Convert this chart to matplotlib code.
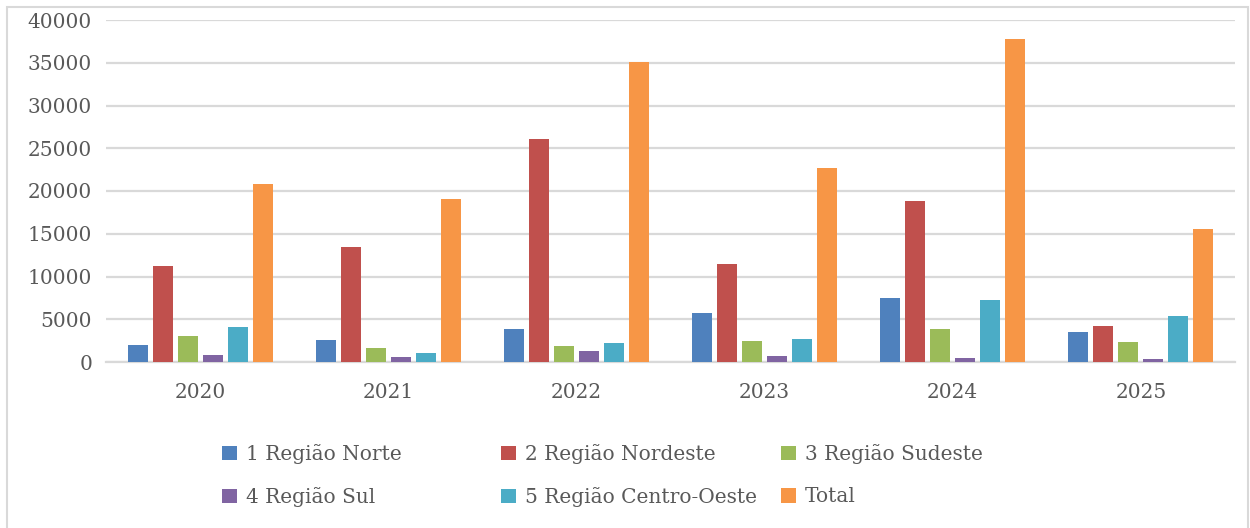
import matplotlib
matplotlib.use("Agg")
import matplotlib.pyplot as plt
from matplotlib.patches import Rectangle
import numpy as np

years = ["2020", "2021", "2022", "2023", "2024", "2025"]
series_names = ["1 Região Norte", "2 Região Nordeste", "3 Região Sudeste",
                "4 Região Sul", "5 Região Centro-Oeste", "Total"]
norte = [2000, 2550, 3850, 5750, 7500, 3500]
nordeste = [11200, 13450, 26100, 11450, 18850, 4200]
sudeste = [3000, 1650, 1850, 2450, 3850, 2350]
sul = [800, 600, 1300, 700, 450, 350]
centro_oeste = [4100, 1050, 2200, 2700, 7250, 5400]
total = [20850, 19050, 35100, 22700, 37800, 15550]
yticks = [0, 5000, 10000, 15000, 20000, 25000, 30000, 35000, 40000]

series = [norte, nordeste, sudeste, sul, centro_oeste, total]
colors = ["#4F81BD", "#C0504D", "#9BBB59", "#8064A2", "#4BACC6", "#F79646"]

plt.rcParams['font.family'] = ['DejaVu Serif']
text_color = "#595959"
grid_color = "#d9d9d9"

W, H = 1250, 528
fig = plt.figure(figsize=(W / 100, H / 100), dpi=100)
ax = fig.add_axes([106 / W, 1 - 362 / H, (1235 - 106) / W, 342 / H])

x = np.arange(len(years))
pitch = 25 / 188
width = 20 / 188
handles = []
for i, (vals, c, name) in enumerate(zip(series, colors, series_names)):
    b = ax.bar(x + (i - 2.5) * pitch, vals, width=width, color=c, label=name, zorder=3)
    handles.append(b)

ax.set_xlim(-0.5, len(years) - 0.5)
ax.set_ylim(0, 40000)
ax.set_yticks(yticks)
ax.set_yticklabels([str(v) for v in yticks])
ax.set_xticks(x)
ax.set_xticklabels(years)
ax.yaxis.grid(True, color=grid_color, linewidth=1.6, zorder=0)
ax.set_axisbelow(True)
for s in ["top", "right", "left"]:
    ax.spines[s].set_visible(False)
ax.spines["bottom"].set_color(grid_color)
ax.spines["bottom"].set_linewidth(1.6)
ax.tick_params(axis="both", length=0, labelsize=14.5, colors=text_color)
ax.tick_params(axis="y", pad=10)
ax.tick_params(axis="x", pad=15)

# legend entries placed in a 3x2 grid like the original
pos_x = [222, 501, 781]
pos_y = [454, 497]
for i, h in enumerate(handles):
    r, cidx = divmod(i, 3)
    fig.legend(handles=[h], labels=[series_names[i]], loc="center left",
               bbox_to_anchor=(pos_x[cidx] / W, 1 - pos_y[r] / H),
               frameon=False, fontsize=14.5, borderpad=0, borderaxespad=0,
               handlelength=0.75, handleheight=0.75, handletextpad=0.45,
               labelcolor=text_color)

# figure border
fig.add_artist(Rectangle((7 / W, -0.01), (1248 - 7) / W, 1.01 - 7 / H,
                         transform=fig.transFigure, fill=False,
                         edgecolor=grid_color, linewidth=1.5))

fig.savefig("out.png", dpi=100)
